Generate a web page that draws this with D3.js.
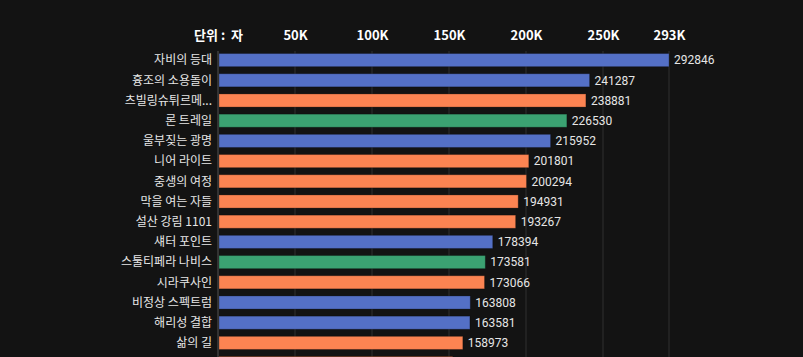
<!DOCTYPE html>
<html>
<head>
<meta charset="utf-8">
<script src="https://cdn.jsdelivr.net/npm/d3@7"></script>
<style>
  html, body { margin: 0; padding: 0; background: #131313; overflow: hidden; }
  text { font-family: "Noto Sans CJK KR", "Noto Sans", sans-serif; white-space: pre; }
</style>
</head>
<body>
<script>
// categories, top to bottom (last row is cut off by the bottom edge)
var names = [
  "자비의 등대", "흉조의 소용돌이", "츠빌링슈튀르메...", "론 트레일", "울부짖는 광명",
  "니어 라이트", "중생의 여정", "막을 여는 자들", "설산 강림 1101", "섀터 포인트",
  "스툴티페라 나비스", "시라쿠사인", "비정상 스펙트럼", "해리성 결합", "삶의 길", "잿빛 여명"
];
var values = [
  292846, 241287, 238881, 226530, 215952,
  201801, 200294, 194931, 193267, 178394,
  173581, 173066, 163808, 163581, 158973, 152400
];
// 0 = blue, 1 = orange, 2 = green
var groups = [0, 0, 1, 2, 0, 1, 1, 1, 1, 0, 2, 1, 0, 0, 1, 1];
var palette = ["#5470c6", "#fc8452", "#3ba272"];

var tickVals = [0, 50000, 100000, 150000, 200000, 250000, 292846];
var tickText = ["단위 :  자", "50K", "100K", "150K", "200K", "250K", "293K"];

var width = 803, height = 357;

var x = d3.scaleLinear()
  .domain([0, 292846])
  .range([218, 669]);

var y = d3.scaleBand()
  .domain(names)
  .range([50, 50 + 16 * 20.2])
  .paddingInner(0.35)
  .paddingOuter(0.175);

var svg = d3.select("body").append("svg")
  .attr("width", width)
  .attr("height", height);

// vertical grid lines
svg.append("g")
  .selectAll("line")
  .data(tickVals.slice(1))
  .enter().append("line")
  .attr("x1", function(d) { return x(d); })
  .attr("x2", function(d) { return x(d); })
  .attr("y1", 51)
  .attr("y2", height)
  .attr("stroke", "#303030")
  .attr("stroke-width", 1);

// top axis labels
var xAxis = svg.append("g")
  .attr("transform", "translate(0,40)")
  .call(d3.axisTop(x)
    .tickValues(tickVals)
    .tickSize(0)
    .tickPadding(0)
    .tickFormat(function(d, i) { return tickText[i]; }));
xAxis.select(".domain").remove();
xAxis.selectAll("text")
  .attr("fill", "#ffffff")
  .attr("font-size", 13)
  .attr("font-weight", "bold")
  .attr("dy", "0");

// bars
svg.append("g")
  .selectAll("rect")
  .data(names)
  .enter().append("rect")
  .attr("x", x(0) + 1)
  .attr("y", function(d) { return y(d); })
  .attr("width", function(d, i) { return x(values[i]) - x(0) - 1; })
  .attr("height", y.bandwidth())
  .attr("fill", function(d, i) { return palette[groups[i]]; })
  .attr("stroke", "rgba(0,0,0,0.25)")
  .attr("stroke-width", 1);

// left axis line
svg.append("line")
  .attr("x1", x(0)).attr("x2", x(0))
  .attr("y1", 51).attr("y2", height)
  .attr("stroke", "#555")
  .attr("stroke-width", 1);

// only rows whose label fits inside the window get text
var shown = names.filter(function(d) { return y(d) + y.bandwidth() < height; });

// category labels
svg.append("g")
  .selectAll("text")
  .data(shown)
  .enter().append("text")
  .attr("x", x(0) - 6)
  .attr("y", function(d) { return y(d) + y.bandwidth() / 2; })
  .attr("dy", "0.35em")
  .attr("text-anchor", "end")
  .attr("fill", "#e6e6e6")
  .attr("font-size", 12)
  .text(function(d) { return d; });

// value labels
svg.append("g")
  .selectAll("text")
  .data(shown)
  .enter().append("text")
  .attr("x", function(d) { return x(values[names.indexOf(d)]) + 5; })
  .attr("y", function(d) { return y(d) + y.bandwidth() / 2; })
  .attr("dy", "0.35em")
  .attr("fill", "#e6e6e6")
  .attr("font-size", 12)
  .style("font-family", "Roboto, sans-serif")
  .text(function(d) { return values[names.indexOf(d)]; });
</script>
</body>
</html>
